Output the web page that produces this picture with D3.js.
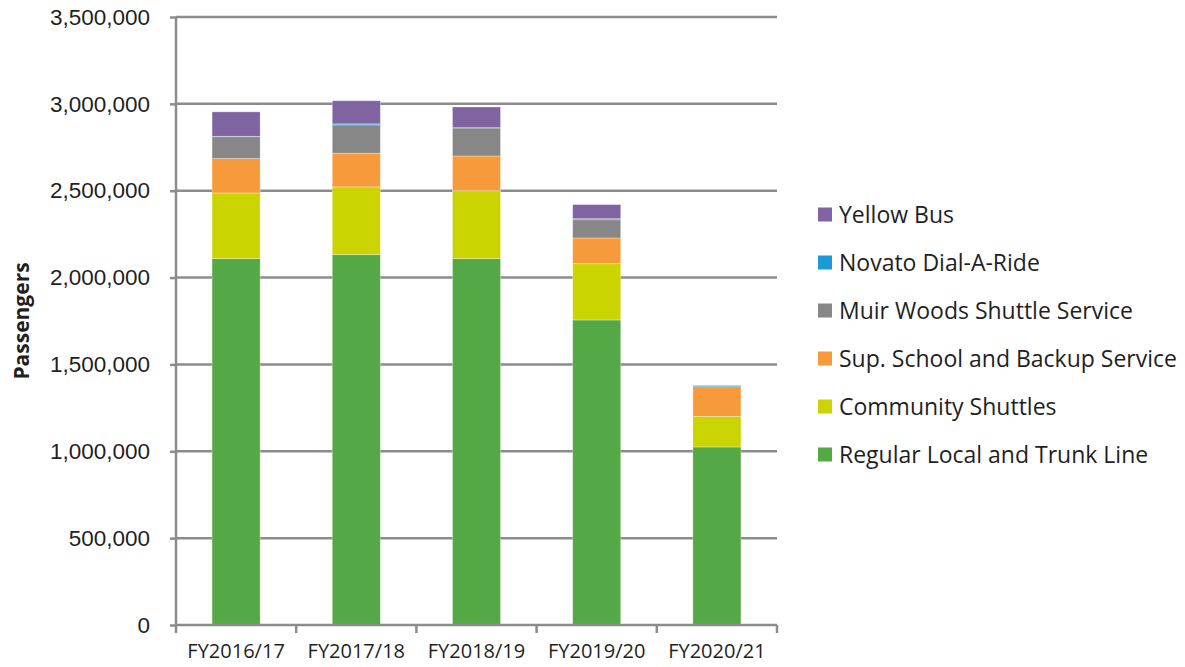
<!DOCTYPE html>
<html>
<head>
<meta charset="utf-8">
<script src="https://cdn.jsdelivr.net/npm/d3@7"></script>
<style>
  body { margin: 0; background: #fff; }
  text { font-family: "Open Sans", "DejaVu Sans", sans-serif; fill: #1f1f1f; }
</style>
</head>
<body>
<svg id="chart"></svg>
<script>
// categories and series (bottom to top of the stack)
const years = ['FY2016/17', 'FY2017/18', 'FY2018/19', 'FY2019/20', 'FY2020/21'];
const series = ['Regular Local and Trunk Line', 'Community Shuttles', 'Sup. School and Backup Service',
    'Muir Woods Shuttle Service', 'Novato Dial-A-Ride', 'Yellow Bus'];
const regularLocal = [2109000, 2132000, 2109000, 1756000, 1025000];
const communityShuttles = [378000, 390000, 391000, 324000, 176000];
const supSchool = [198000, 194000, 200000, 148000, 171000];
const muirWoods = [126000, 163000, 161000, 105000, 0];
const novatoDAR = [2000, 6000, 2000, 6000, 7000];
const yellowBus = [141000, 133000, 119000, 81000, 0];
const yTicks = [0, 500000, 1000000, 1500000, 2000000, 2500000, 3000000, 3500000];
const colors = ['#55a846', '#cbd400', '#f79a3b', '#878787', '#1b9ad6', '#8064a2'];

const W = 1185, H = 667;
const margin = { top: 17, right: 408, bottom: 42, left: 176 };
const innerW = W - margin.left - margin.right;
const innerH = H - margin.top - margin.bottom;

const svg = d3.select('#chart').attr('width', W).attr('height', H);
const chart = svg.append('g').attr('transform', `translate(${margin.left}, ${margin.top})`);

const table = years.map((y, i) => ({
    year: y,
    [series[0]]: regularLocal[i],
    [series[1]]: communityShuttles[i],
    [series[2]]: supSchool[i],
    [series[3]]: muirWoods[i],
    [series[4]]: novatoDAR[i],
    [series[5]]: yellowBus[i]
}));
const stacked = d3.stack().keys(series)(table);

const xscale = d3.scaleBand().domain(years).range([0, innerW]).paddingInner(0.6).paddingOuter(0.3);
const yscale = d3.scaleLinear().domain([0, 3500000]).range([innerH, 0]);
const color = d3.scaleOrdinal().domain(series).range(colors);

// gridlines
chart.append('g')
    .selectAll('line')
    .data(yTicks.slice(1))
    .join('line')
    .attr('x1', 0).attr('x2', innerW)
    .attr('y1', d => yscale(d)).attr('y2', d => yscale(d))
    .attr('stroke', '#8c8c8c').attr('stroke-width', 2.5);

// bars
chart.append('g')
    .selectAll('g')
    .data(stacked)
    .join('g')
    .attr('fill', d => color(d.key))
    .selectAll('rect')
    .data(d => d)
    .join('rect')
    .attr('x', d => xscale(d.data.year))
    .attr('y', d => yscale(d[1]))
    .attr('width', xscale.bandwidth())
    .attr('height', d => yscale(d[0]) - yscale(d[1]))
    .attr('stroke', '#fff').attr('stroke-opacity', 0.4).attr('stroke-width', 0.8);

// y axis
const yaxis = d3.axisLeft(yscale).tickValues(yTicks).tickFormat(d3.format(',')).tickSize(6).tickPadding(20);
const yg = chart.append('g').call(yaxis);
yg.select('.domain').attr('stroke', '#8c8c8c').attr('stroke-width', 2.5).attr('d', `M0,0V${innerH}`);
yg.selectAll('.tick line').attr('stroke', '#8c8c8c').attr('stroke-width', 2.5);
yg.selectAll('.tick text').style('font-size', '22.5px').style('font-family', 'inherit').attr('fill', '#1f1f1f');

// x axis: ticks at category boundaries
const step = xscale.step();
const xg = chart.append('g').attr('transform', `translate(0, ${innerH})`);
xg.append('line').attr('x1', 0).attr('x2', innerW).attr('stroke', '#8c8c8c').attr('stroke-width', 2.5);
xg.selectAll('.xtick')
    .data(d3.range(years.length + 1))
    .join('line')
    .attr('class', 'xtick')
    .attr('x1', i => i * step).attr('x2', i => i * step)
    .attr('y1', 0).attr('y2', 8)
    .attr('stroke', '#8c8c8c').attr('stroke-width', 2.5);
xg.selectAll('.xlabel')
    .data(years)
    .join('text')
    .attr('class', 'xlabel')
    .attr('x', d => xscale(d) + xscale.bandwidth() / 2)
    .attr('y', 33)
    .attr('text-anchor', 'middle')
    .style('font-size', '20px')
    .text(d => d);

// y axis title
svg.append('text')
    .attr('transform', `translate(29, 321) rotate(-90)`)
    .attr('text-anchor', 'middle')
    .style('font-size', '21px')
    .style('font-weight', 'bold')
    .text('Passengers');

// legend, top to bottom is reverse stack order
const legend = svg.append('g').attr('transform', 'translate(818, 214.5)');
const rows = legend.selectAll('g')
    .data(series.slice().reverse())
    .join('g')
    .attr('transform', (d, i) => `translate(0, ${i * 48})`);
rows.append('rect')
    .attr('x', 0).attr('y', -7)
    .attr('width', 14).attr('height', 14)
    .attr('fill', d => color(d));
rows.append('text')
    .attr('x', 21).attr('y', 8)
    .style('font-size', '23px')
    .text(d => d);
</script>
</body>
</html>
